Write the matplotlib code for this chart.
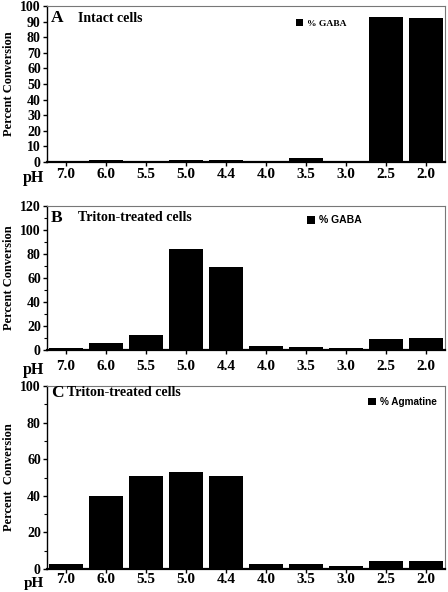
import matplotlib
matplotlib.use("Agg")
import matplotlib.pyplot as plt
import numpy as np

ph_labels = ["7.0", "6.0", "5.5", "5.0", "4.4", "4.0", "3.5", "3.0", "2.5", "2.0"]
gaba_intact = [0.3, 1.0, 0.3, 1.0, 1.5, 0.3, 2.5, 0.3, 93, 92]
gaba_triton = [1.5, 5.5, 12.5, 84, 69, 3.5, 2.5, 1.5, 9, 10]
agmatine_triton = [2.5, 40, 51, 53, 51, 3, 2.5, 1.5, 4.5, 4.5]

serif = "Liberation Serif"
sans = "Liberation Sans"

fig = plt.figure(figsize=(4.48, 5.92), dpi=100)

def px2pt(p):
    return p * 0.72

panels = [
    dict(rect=[47/448, 1-162/592, 398/448, 156/592], vals=gaba_intact, ylim=100,
         yticks=np.arange(0, 101, 10), minor=None, label_off=14, ph_off=15.5, ph_size=11.5, legend="% GABA", legfont=serif,
         legsize=6.8, leganchor=(0.605, 0.89), letter="A", title="Intact cells", title_y=0.92, title_x=0.078),
    dict(rect=[47/448, 1-350/592, 398/448, 144/592], vals=gaba_triton, ylim=120,
         yticks=np.arange(0, 121, 20), minor=np.arange(10, 120, 20), label_off=18, ph_off=19.5, ph_size=11.5, legend="% GABA", legfont=sans,
         legsize=7.5, leganchor=(0.63, 0.9), letter="B", title="Triton-treated cells", title_y=0.917, title_x=0.078),
    dict(rect=[47/448, 1-569/592, 398/448, 183/592], vals=agmatine_triton, ylim=100,
         yticks=np.arange(0, 101, 20), minor=np.arange(10, 100, 20), label_off=12, ph_off=15, ph_size=11, legend="% Agmatine", legfont=sans,
         legsize=7.2, leganchor=(0.785, 0.913), letter="C", title="Triton-treated cells", title_y=0.962, title_x=0.05),
]

x = np.arange(len(ph_labels))
for i, p in enumerate(panels):
    ax = fig.add_axes(p["rect"])
    ax.bar(x, p["vals"], width=0.86, color="black", label=p["legend"])
    ax.set_xlim(-0.47, 9.47)
    ax.set_ylim(0, p["ylim"])
    ax.set_yticks(p["yticks"])
    if p["minor"] is not None:
        ax.set_yticks(p["minor"], minor=True)
    ax.set_xticks(x)
    pad = px2pt(p["label_off"]) - 3 - 5.5
    ax.set_xticklabels(ph_labels, fontfamily=serif, fontweight="bold", fontsize=11)
    ax.tick_params(axis="x", direction="out", length=3, width=1, pad=pad)
    ax.tick_params(axis="y", which="major", direction="out", length=3, width=1, pad=1.5)
    ax.tick_params(axis="y", which="minor", direction="out", length=2, width=0.8)
    for lab in ax.get_yticklabels():
        lab.set_fontfamily(serif)
        lab.set_fontweight("bold")
        lab.set_fontsize(10)
    for s in ["top", "right"]:
        ax.spines[s].set_color("#777777")
        ax.spines[s].set_linewidth(0.8)
    ax.spines["left"].set_linewidth(1.0)
    ax.spines["bottom"].set_linewidth(1.6)
    ax.annotate("pH", xy=(0, 0), xycoords="axes fraction",
                xytext=(-2, -px2pt(p["ph_off"])), textcoords="offset points",
                ha="right", va="center", fontfamily=serif, fontweight="bold", fontsize=p["ph_size"])
    ylab = "Percent  Conversion" if i == 2 else "Percent Conversion"
    ax.set_ylabel(ylab, fontfamily=serif, fontweight="bold", fontsize=9)
    ax.yaxis.set_label_coords(-32/398, 0.5)
    ax.text(0.01, p["title_y"], p["letter"], transform=ax.transAxes, fontfamily=serif,
            fontweight="bold", fontsize=12.5, va="center", ha="left")
    ax.text(p["title_x"], p["title_y"], p["title"], transform=ax.transAxes, fontfamily=serif,
            fontweight="bold", fontsize=10, va="center", ha="left")
    ax.legend(loc="center left", bbox_to_anchor=p["leganchor"], frameon=False,
              handlelength=0.75, handleheight=0.8, handletextpad=0.4,
              prop=dict(family=p["legfont"], weight="bold", size=p["legsize"]))

fig.savefig("out.png", dpi=100)
